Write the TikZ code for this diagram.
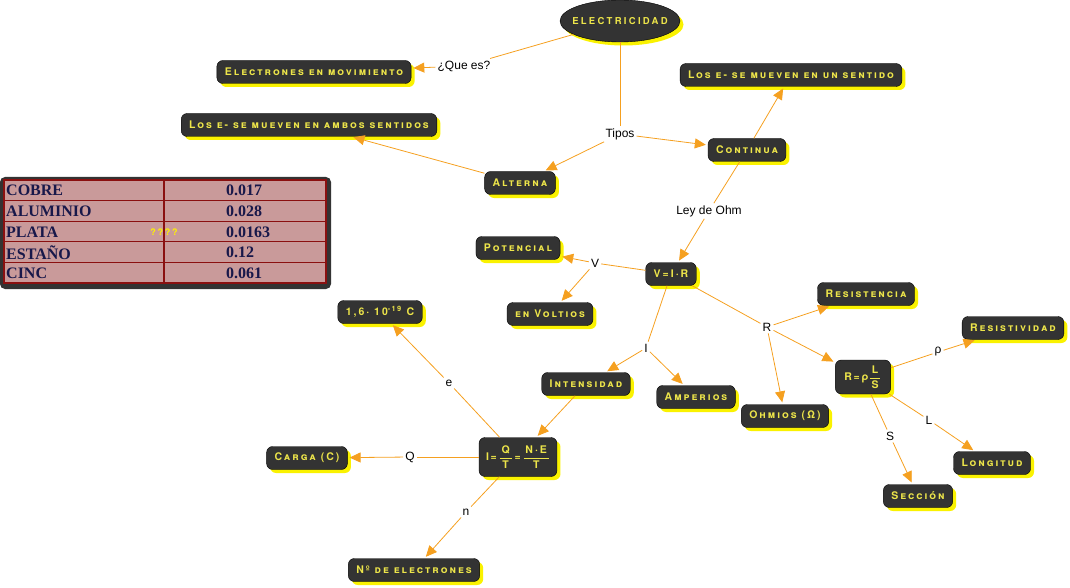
\documentclass[tikz,border=0pt]{standalone}
\usepackage{fontspec}
\setmainfont{Liberation Sans}
\newfontfamily\boxfont[LetterSpace=19]{TeX Gyre Heros}
\newfontfamily\elecfont[LetterSpace=24]{TeX Gyre Heros}
\newfontfamily\tabfont{Liberation Serif}
\usepackage{tikz}
\usetikzlibrary{arrows.meta}
\usetikzlibrary{shadows}
\usetikzlibrary{shapes.geometric}
\definecolor{boxgray}{HTML}{333333}
\definecolor{boxtext}{HTML}{EDE54A}
\definecolor{shadowyellow}{HTML}{FAF200}
\definecolor{linkorange}{HTML}{F5A020}
\definecolor{tabpink}{HTML}{C99A9A}
\definecolor{tabred}{HTML}{8A1010}
\definecolor{tabink}{HTML}{18184A}
\newcommand{\boxfrac}[2]{$\displaystyle\frac{\,\mbox{#1}\,}{\,\mbox{#2}\,}$}

\begin{document}
\begin{tikzpicture}[x=1pt,y=-1pt,
	concept/.style={draw=black, fill=boxgray, rounded corners=6pt, text=boxtext,
		font=\boxfont\bfseries\scshape\fontsize{10.5}{11}\selectfont, minimum height=23pt, inner xsep=8pt,
		drop shadow={fill=shadowyellow, opacity=1, shadow xshift=3.5pt, shadow yshift=-3.5pt}},
	lab/.style={font=\fontsize{12}{14}\selectfont, inner sep=2pt},
	link/.style={draw=linkorange, line width=0.8pt},
	arr/.style={link, -{Triangle[length=11pt,width=10pt]}, shorten >=2pt}]
	\useasboundingbox (0,0) rectangle (1070,588);

	% tabla de resistividades
	\fill[boxgray, rounded corners=5pt] (0,177) rectangle (331,289);
	\fill[tabpink] (4,180) rectangle (326,283);
	\foreach \mat/\val [count=\i] in {COBRE/0.017, ALUMINIO/0.028, PLATA/0.0163, ESTAÑO/0.12, CINC/0.061} {
		\draw[tabred, line width=1.2pt] (4,{180+(\i-1)*20.6}) rectangle (326,{180+\i*20.6});
		\node[anchor=west, text=tabink, font=\tabfont\bfseries\fontsize{16}{18}\selectfont, inner sep=1pt] (mat\i) at (5,{190.6+(\i-1)*20.6}) {\mat};
		\node[anchor=west, text=tabink, font=\tabfont\bfseries\fontsize{16}{18}\selectfont, inner sep=1pt] (val\i) at (225,{190.6+(\i-1)*20.6}) {\val};
	}
	\draw[tabred, line width=1.2pt] (164,180) -- (164,283);
	\node[text=yellow, font=\boxfont\bfseries\fontsize{9}{10}\selectfont] (qqq) at (164,232) {????};

	% conceptos
	\node[concept, ellipse, minimum width=120pt, minimum height=42pt, inner sep=0pt,
		font=\elecfont\bfseries\fontsize{9.5}{10}\selectfont] (elec) at (620,21) {\makebox[60pt]{ELECTRICIDAD}};
	\node[concept] (mov) at (314,72) {Electrones en movimiento};
	\node[concept] (unsent) at (791,75) {Los e- se mueven en un sentido};
	\node[concept] (ambos) at (309,125) {Los e- se mueven en ambos sentidos};
	\node[concept] (cont) at (747,150) {Continua};
	\node[concept] (alt) at (520,183) {Alterna};
	\node[concept] (ohm) at (671,274) {V=I·R};
	\node[concept] (pot) at (518,248) {Potencial};
	\node[concept] (volt) at (550,314) {en Voltios};
	\node[concept] (inten) at (586,384) {Intensidad};
	\node[concept] (amp) at (696,397) {Amperios};
	\node[concept] (resis) at (866,294) {Resistencia};
	\node[concept] (ohmios) at (785,416) {Ohmios (Ω)};
	\node[concept, minimum height=34pt, inner xsep=9pt] (rform) at (863,377) {R\,=\,ρ\boxfrac{L}{S}};
	\node[concept] (resv) at (1013,328) {Resistividad};
	\node[concept] (long) at (992,463) {Longitud};
	\node[concept] (secc) at (918,496) {Sección};
	\node[concept, minimum height=39pt, inner xsep=7pt] (iform) at (518,457) {I\,=\,\boxfrac{Q}{T}\,=\,\boxfrac{N·E}{T}};
	\node[concept] (carga) at (380,312) {1,6· 10\textsuperscript{-19} C};
	\node[concept] (cargac) at (307,458) {Carga (C)};
	\node[concept] (nelec) at (414,570) {Nº de electrones};

	% etiquetas
	\node[lab] (quees) at (464,66) {¿Que es?};
	\node[lab] (tipos) at (620,134) {Tipos};
	\node[lab] (ley) at (709,211) {Ley de Ohm};
	\node[lab] (lv) at (595,263) {V};
	\node[lab] (li) at (646,348) {I};
	\node[lab] (lr) at (767,327) {R};
	\node[lab] (lrho) at (938,352) {ρ};
	\node[lab] (ll) at (929,420) {L};
	\node[lab] (ls) at (890,436) {S};
	\node[lab] (le) at (449,383) {e};
	\node[lab] (lq) at (410,457) {Q};
	\node[lab] (ln) at (466,512) {n};

	% conexiones
	\draw[link] (elec) -- (quees);
	\draw[arr] (quees) -- (mov);
	\draw[link] (elec) -- (tipos);
	\draw[arr] (tipos) -- (cont);
	\draw[arr] (tipos) -- (alt);
	\draw[arr] (cont) -- (unsent);
	\draw[arr] (alt) -- (ambos);
	\draw[link] (cont) -- (ley);
	\draw[arr] (ley) -- (ohm);
	\draw[link] (ohm) -- (lv);
	\draw[arr] (lv) -- (pot);
	\draw[arr] (lv) -- (volt);
	\draw[link] (ohm) -- (li);
	\draw[arr] (li) -- (inten);
	\draw[arr] (li) -- (amp);
	\draw[link] (ohm) -- (lr);
	\draw[arr] (lr) -- (resis);
	\draw[arr] (lr) -- (rform);
	\draw[arr] (lr) -- (ohmios);
	\draw[link] (rform) -- (lrho);
	\draw[arr] (lrho) -- (resv);
	\draw[link] (rform) -- (ll);
	\draw[arr] (ll) -- (long);
	\draw[link] (rform) -- (ls);
	\draw[arr] (ls) -- (secc);
	\draw[arr] (inten) -- (iform);
	\draw[link] (iform) -- (le);
	\draw[arr] (le) -- (carga);
	\draw[link] (iform) -- (lq);
	\draw[arr] (lq) -- (cargac);
	\draw[link] (iform) -- (ln);
	\draw[arr] (ln) -- (nelec);
\end{tikzpicture}
\end{document}
